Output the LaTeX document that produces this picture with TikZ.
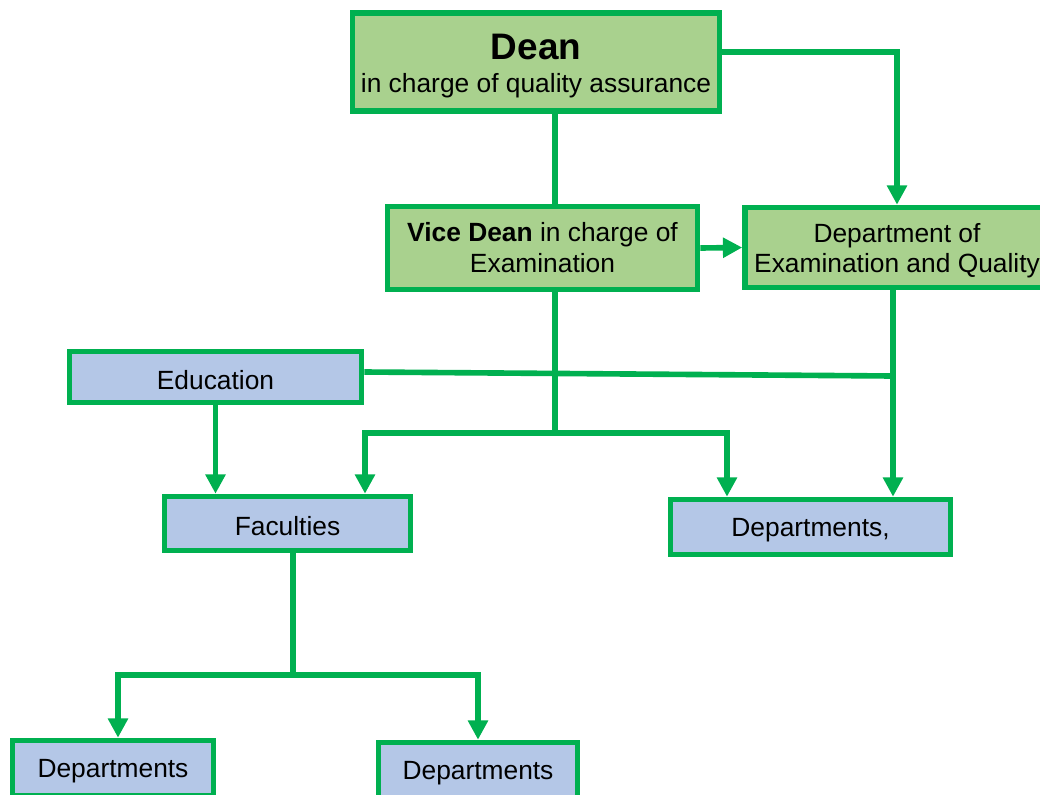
\documentclass[tikz,border=0pt]{standalone}
\usepackage{fontspec}
\setmainfont{Liberation Sans}
\usetikzlibrary{arrows.meta}
\definecolor{frame}{HTML}{00B050}
\definecolor{leaf}{HTML}{A9D18E}
\definecolor{sky}{HTML}{B4C7E7}
\tikzset{
  box/.style={draw=frame, line width=3.2pt, align=center, inner sep=2pt,
    font=\fontsize{15}{17.6}\selectfont},
  upper/.style={box, fill=leaf},
  lower/.style={box, fill=sky, text height=13.8pt},
  link/.style={draw=frame, line width=3.2pt},
  flow/.style={link, -{Triangle[width=11pt,length=11pt]}},
}
\begin{document}
\begin{tikzpicture}[x=0.02cm,y=-0.02cm]
                \clip (0,0) rectangle (1040,794);
                %% top boxes
                \node[upper, minimum width=7.34cm, minimum height=1.96cm] (dean) at (536,62)
                    {\rule{0pt}{19pt}{\fontsize{21}{25}\selectfont\bfseries Dean}\\[1pt]in charge of quality assurance};
                \node[upper, minimum width=6.2cm, minimum height=1.66cm] (vice) at (542.5,248)
                    {\textbf{Vice Dean} in charge of\\Examination};
                \node[upper, minimum width=6.08cm, minimum height=1.6cm] (dq) at (897,247.5)
                    {\rule{0pt}{14.5pt}Department of\\Examination and Quality};
                %% lower boxes
                \node[lower, minimum width=5.84cm, minimum height=1.02cm] (edu) at (215.5,377) {Education};
                \node[lower, minimum width=4.92cm, minimum height=1.08cm] (fac) at (287.5,523.5) {Faculties};
                \node[lower, minimum width=5.6cm, minimum height=1.1cm] (depc) at (810.5,527) {Departments,};
                \node[lower, minimum width=4.02cm, minimum height=1.1cm] (dl) at (113,768) {Departments};
                \node[lower, minimum width=3.98cm, minimum height=1.1cm] (dr) at (478,770) {Departments};
                %% junctions
                \coordinate (split) at (555,433);
                \coordinate (join) at (893,376);
                \coordinate (fork) at (293,675);
                %% connectors
                \draw[flow] ([yshift=0.2cm]dean.east) -| (dq.north);
                \draw[link] (dean.south -| split) -- (vice.north -| split);
                \draw[flow] (vice.east) -- (dq.west);
                \draw[link] (vice.south -| split) -- (split);
                \draw[flow] (split) -| (fac.north -| 365,0);
                \draw[flow] (split) -| (depc.north -| 727,0);
                \draw[link] ([yshift=0.1cm]edu.east) -- (join);
                \draw[flow] (dq.south -| join) -- (depc.north -| join);
                \draw[flow] (edu.south) -- (edu.south |- fac.north);
                \draw[link] (fac.south -| fork) -- (fork);
                \draw[flow] (fork) -| (dl.north -| 118,0);
                \draw[flow] (fork) -| (dr.north);
            \end{tikzpicture}
\end{document}
